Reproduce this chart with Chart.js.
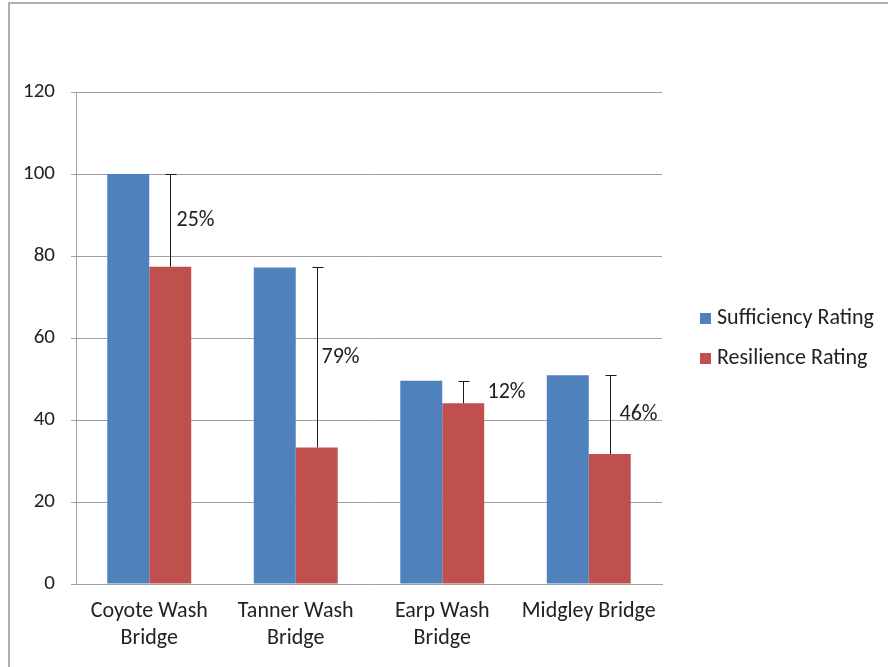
<!DOCTYPE html>
<html>
<head>
<meta charset="utf-8">
<script src="https://cdn.jsdelivr.net/npm/chart.js@4.4.1/dist/chart.umd.min.js"></script>
<style>
    body { margin: 0; background: #fff; overflow: hidden; }
    #frame { position: absolute; left: 8px; top: 2px; width: 1000px; height: 1000px; border: 2px solid #b0b0b0; }
    #chart { position: absolute; left: 0; top: 0; }
</style>
</head>
<body>
<div id="frame"></div>
<canvas id="chart" width="888" height="667"></canvas>
<script>
// values
const bridges = [['Coyote Wash', 'Bridge'], ['Tanner Wash', 'Bridge'], ['Earp Wash', 'Bridge'], 'Midgley Bridge'];
const sufficiency = [100, 77.2, 49.6, 50.9];
const resilience = [77.4, 33.3, 44.1, 31.7];
const gapLabels = ['25%', '79%', '12%', '46%'];
const yMin = 0, yMax = 120, yStep = 20;

const FONT = 'Carlito, Calibri, Lato, sans-serif';
const TEXT = '#222';
const GRID = '#a0a0a0';

// vertical "gap" bars from resilience up to sufficiency, with percent labels
const gapBars = {
    id: 'gapBars',
    afterDatasetsDraw(chart, args, opts) {
        let ctx = chart.ctx;
        let meta = chart.getDatasetMeta(1);
        let y = chart.scales.y;
        ctx.save();
        ctx.strokeStyle = '#1a1a1a';
        ctx.lineWidth = 1;
        ctx.fillStyle = TEXT;
        ctx.font = '22px ' + FONT;
        ctx.textBaseline = 'middle';
        meta.data.forEach((bar, i) => {
            let x = Math.round(bar.x) + 0.5;
            let top = Math.round(y.getPixelForValue(sufficiency[i])) + 0.5;
            ctx.beginPath();
            ctx.moveTo(x, bar.y);
            ctx.lineTo(x, top);
            ctx.moveTo(x - 5, top);
            ctx.lineTo(x + 6, top);
            ctx.stroke();
            ctx.fillText(gapLabels[i], x + opts.offsets[i], (top + bar.y) / 2);
        });
        ctx.restore();
    }
};

// legend on the right, drawn from the datasets
const sideLegend = {
    id: 'sideLegend',
    afterDraw(chart, args, opts) {
        let ctx = chart.ctx;
        ctx.save();
        ctx.font = '22px ' + FONT;
        ctx.textBaseline = 'middle';
        chart.data.datasets.forEach((ds, i) => {
            let cy = opts.top + i * opts.gap;
            ctx.fillStyle = ds.backgroundColor;
            ctx.fillRect(opts.left, cy - 5, 11, 11);
            ctx.fillStyle = TEXT;
            ctx.fillText(ds.label, opts.left + 17, cy);
        });
        ctx.restore();
    }
};

new Chart(document.getElementById('chart').getContext('2d'), {
    type: 'bar',
    data: {
        labels: bridges,
        datasets: [
            { label: 'Sufficiency Rating', data: sufficiency, backgroundColor: '#4F81BD' },
            { label: 'Resilience Rating', data: resilience, backgroundColor: '#C0504D' }
        ]
    },
    options: {
        responsive: false,
        animation: false,
        categoryPercentage: 0.573,
        barPercentage: 1,
        layout: { padding: { top: 92, right: 226, bottom: 0, left: 0 } },
        plugins: {
            legend: { display: false },
            tooltip: { enabled: false },
            gapBars: { offsets: [6, 4, 24, 9] },
            sideLegend: { left: 700, top: 318, gap: 40 }
        },
        scales: {
            x: {
                grid: { display: false, drawTicks: false },
                border: { display: true, color: GRID },
                ticks: { color: TEXT, font: { family: FONT, size: 22, lineHeight: 1.23 }, padding: 14, maxRotation: 0, autoSkip: false },
                afterFit(scale) { scale.height = 83; }
            },
            y: {
                min: yMin,
                max: yMax,
                grid: { color: GRID, tickLength: 5 },
                border: { display: true, color: GRID },
                ticks: { stepSize: yStep, color: TEXT, font: { family: FONT, size: 21 }, padding: 16 },
                afterFit(scale) { scale.width = 76; }
            }
        }
    },
    plugins: [gapBars, sideLegend]
});
</script>
</body>
</html>
